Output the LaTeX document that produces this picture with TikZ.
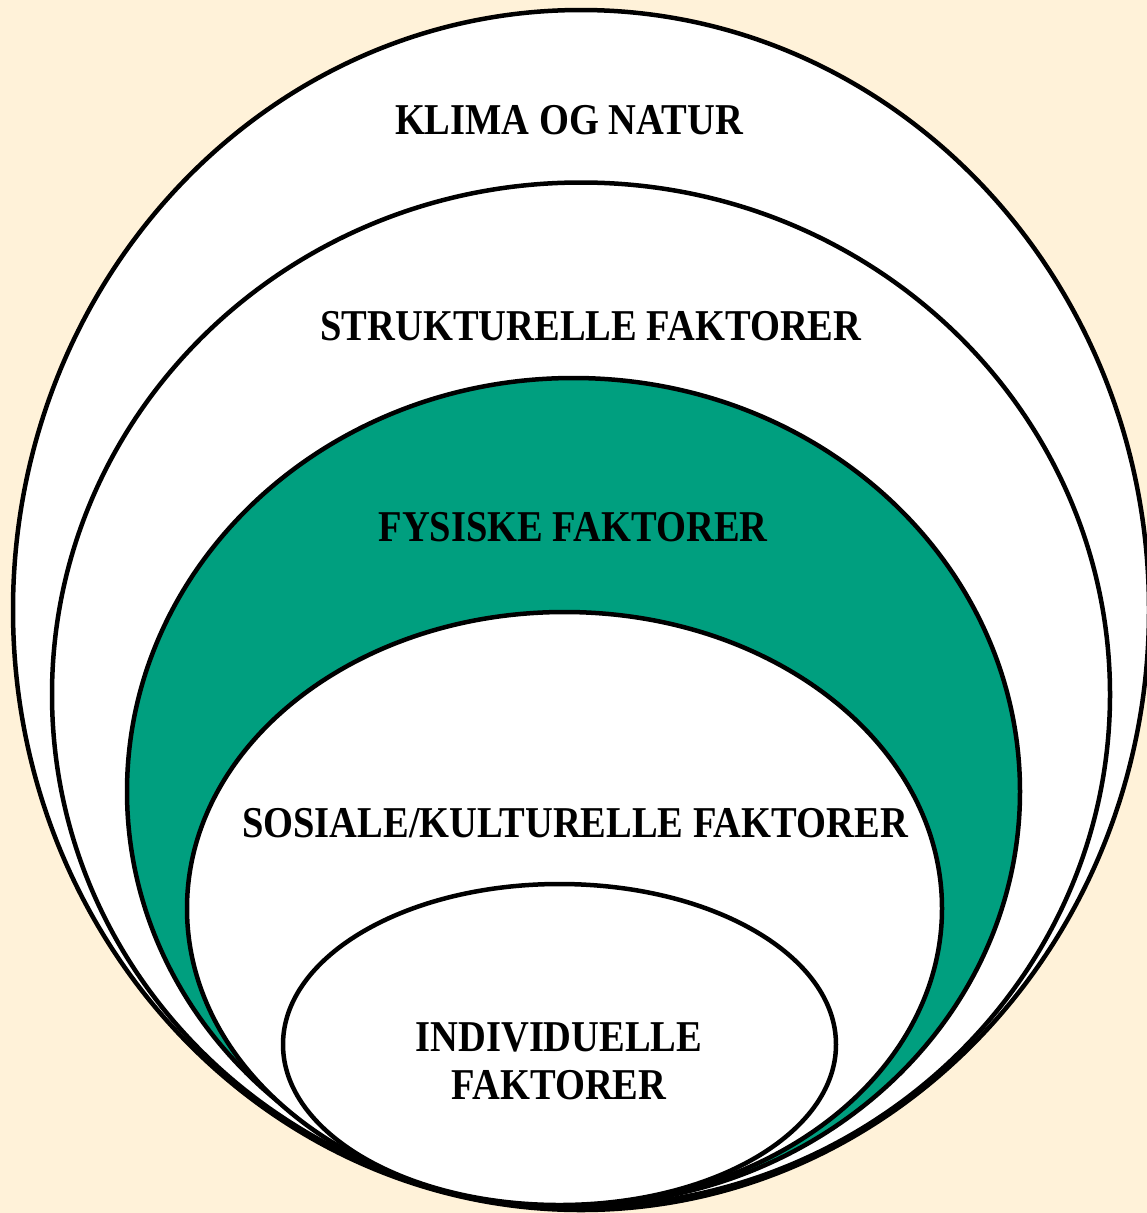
\documentclass[tikz,border=0pt]{standalone}
\usepackage{fontspec}
\setmainfont{Liberation Serif}[FakeStretch=0.875]
\definecolor{bgcream}{HTML}{FFF2D9}
\definecolor{ringgreen}{HTML}{009F7F}
\begin{document}
\begin{tikzpicture}[x=1pt,y=-1pt,
  ring/.style={draw=black,line width=4.5pt},
  lbl/.style={font=\fontsize{44}{50}\selectfont\bfseries,align=center,inner sep=0pt}]
\useasboundingbox (0,0) rectangle (1147,1213);
\fill[bgcream] (0,0) rectangle (1147,1213);
\draw[ring,fill=white] (581,610) ellipse [x radius=568,y radius=600];
\draw[ring,fill=white] (581,694.5) ellipse [x radius=529,y radius=512];
\draw[ring,fill=ringgreen] (573.5,791.5) ellipse [x radius=446.5,y radius=413.5];
\draw[ring,fill=white] (564.5,908.5) ellipse [x radius=377.5,y radius=296.5];
\draw[ring,fill=white] (559.5,1044.5) ellipse [x radius=276.5,y radius=160.5];
\node[lbl] (klima) at (569,120) {KLIMA OG NATUR};
\node[lbl] (struk) at (591,326) {STRUKTURELLE FAKTORER};
\node[lbl] (fys) at (573,527) {FYSISKE FAKTORER};
\node[lbl] (sos) at (575,823) {SOSIALE/KULTURELLE FAKTORER};
\node[lbl] (ind) at (559,1061) {INDIVIDUELLE\\[-2pt]FAKTORER};
\end{tikzpicture}
\end{document}
